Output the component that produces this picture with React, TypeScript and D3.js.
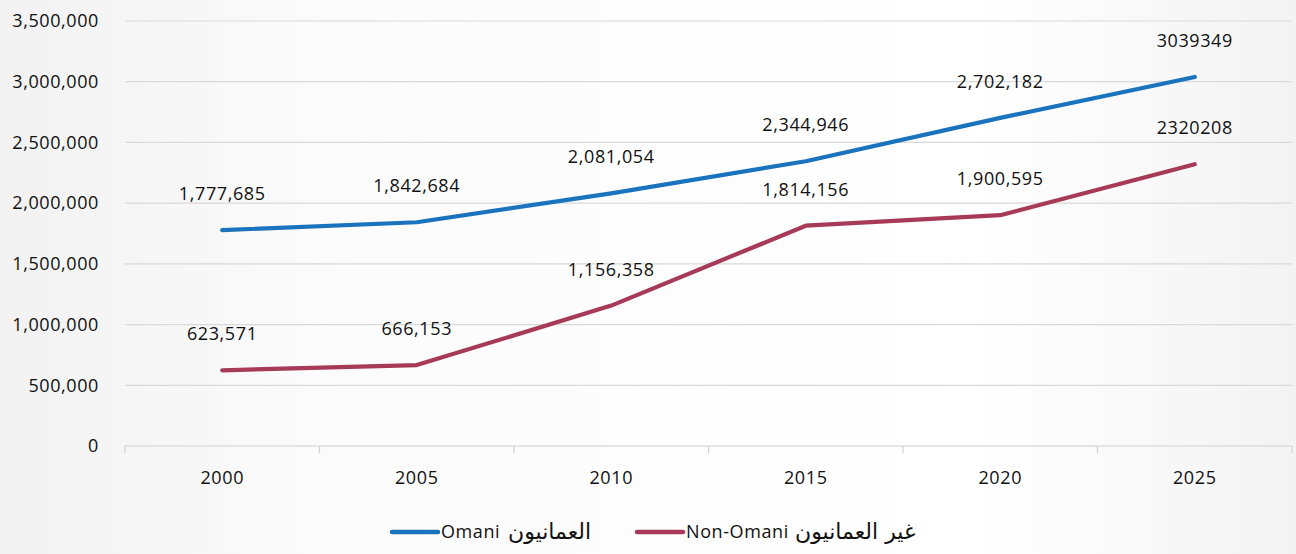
import React, { useEffect, useRef } from 'react';
import * as d3 from 'd3';

// chart data
const years = ['2000', '2005', '2010', '2015', '2020', '2025'];
const omani = [1777685, 1842684, 2081054, 2344946, 2702182, 3039349];
const nonOmani = [623571, 666153, 1156358, 1814156, 1900595, 2320208];
const omaniLabels = ['1,777,685', '1,842,684', '2,081,054', '2,344,946', '2,702,182', '3039349'];
const nonOmaniLabels = ['623,571', '666,153', '1,156,358', '1,814,156', '1,900,595', '2320208'];
const yTicks = [0, 500000, 1000000, 1500000, 2000000, 2500000, 3000000, 3500000];
const seriesLatin = ['Omani', 'Non-Omani'];
const seriesArabic = ['العمانيون', 'غير العمانيون'];

const App = () => {
  const ref = useRef<SVGSVGElement>(null);
  const W = 1296;
  const H = 554;
  const margin = { top: 21, right: 4, bottom: 108, left: 125 };
  const font = "'Open Sans', 'DejaVu Sans', sans-serif";
  const fs = 18;
  const ls = 0.6;
  const ink = '#111111';

  useEffect(() => {
    const svg = d3.select(ref.current);
    svg.selectAll('*').remove();

    // background
    const defs = svg.append('defs');
    const grad = defs.append('linearGradient').attr('id', 'bg').attr('x1', '0').attr('x2', '1');
    grad.append('stop').attr('offset', '0%').attr('stop-color', '#f2f2f2');
    grad.append('stop').attr('offset', '25%').attr('stop-color', '#fbfbfb');
    grad.append('stop').attr('offset', '75%').attr('stop-color', '#ffffff');
    grad.append('stop').attr('offset', '100%').attr('stop-color', '#f3f3f3');
    svg.append('rect').attr('width', W).attr('height', H).attr('fill', 'url(#bg)');

    const iw = W - margin.left - margin.right;
    const ih = H - margin.top - margin.bottom;
    const g = svg.append('g').attr('transform', `translate(${margin.left},${margin.top})`);

    const x = d3.scaleBand().domain(years).range([0, iw]);
    const y = d3.scaleLinear().domain([0, 3500000]).range([ih, 0]);

    // grid lines
    g.selectAll('.grid')
      .data(yTicks.slice(1))
      .enter()
      .append('line')
      .attr('x1', 0)
      .attr('x2', iw)
      .attr('y1', d => y(d))
      .attr('y2', d => y(d))
      .attr('stroke', '#d9d9d9')
      .attr('stroke-width', 1.2);

    // y axis labels
    g.selectAll('.ylab')
      .data(yTicks)
      .enter()
      .append('text')
      .attr('x', -26)
      .attr('y', d => y(d))
      .attr('dy', '0.35em')
      .attr('text-anchor', 'end')
      .attr('font-family', font)
      .attr('font-size', fs)
      .attr('letter-spacing', ls)
      .attr('fill', ink)
      .text(d => d3.format(',')(d));

    // x axis
    g.append('line')
      .attr('x1', 0).attr('x2', iw)
      .attr('y1', ih).attr('y2', ih)
      .attr('stroke', '#d0d0d0').attr('stroke-width', 1.2);
    const tickPos = years.map(d => x(d) as number).concat([iw]);
    g.selectAll('.xtick')
      .data(tickPos)
      .enter()
      .append('line')
      .attr('x1', d => d).attr('x2', d => d)
      .attr('y1', ih).attr('y2', ih + 7)
      .attr('stroke', '#d0d0d0').attr('stroke-width', 1.2);
    g.selectAll('.xlab')
      .data(years)
      .enter()
      .append('text')
      .attr('x', d => (x(d) as number) + x.bandwidth() / 2)
      .attr('y', ih + 38)
      .attr('text-anchor', 'middle')
      .attr('font-family', font)
      .attr('font-size', fs)
      .attr('letter-spacing', ls)
      .attr('fill', ink)
      .text(d => d);

    const cx = (i: number) => (x(years[i]) as number) + x.bandwidth() / 2;
    const line = d3.line<number>().x((_, i) => cx(i)).y(d => y(d));

    const series = [
      { values: omani, labels: omaniLabels, color: '#1a73bd' },
      { values: nonOmani, labels: nonOmaniLabels, color: '#a63a58' },
    ];

    series.forEach(s => {
      g.append('path')
        .datum(s.values)
        .attr('fill', 'none')
        .attr('stroke', s.color)
        .attr('stroke-width', 4.2)
        .attr('stroke-linecap', 'round')
        .attr('stroke-linejoin', 'round')
        .attr('d', line);
      g.selectAll(null)
        .data(s.values)
        .enter()
        .append('text')
        .attr('x', (_, i) => cx(i))
        .attr('y', d => y(d) - 30)
        .attr('text-anchor', 'middle')
        .attr('font-family', font)
        .attr('font-size', fs)
        .attr('letter-spacing', ls)
        .attr('fill', ink)
        .text((_, i) => s.labels[i]);
    });

    // legend
    const legendX = [392, 637];
    const arabicX = [508, 795];
    series.forEach((s, i) => {
      const lg = svg.append('g').attr('transform', `translate(${legendX[i]},${H - 22})`);
      lg.append('line')
        .attr('x1', 0).attr('x2', 46)
        .attr('y1', 0).attr('y2', 0)
        .attr('stroke', s.color).attr('stroke-width', 4.5).attr('stroke-linecap', 'round');
      lg.append('text')
        .attr('x', 49)
        .attr('y', 0)
        .attr('dy', '0.33em')
        .attr('font-family', font)
        .attr('font-size', fs)
        .attr('letter-spacing', ls)
        .attr('fill', ink)
        .text(seriesLatin[i]);
      lg.append('text')
        .attr('x', arabicX[i] - legendX[i])
        .attr('y', 0)
        .attr('dy', '0.3em')
        .attr('font-family', "'DejaVu Sans', sans-serif")
        .attr('font-size', 22)
        .attr('fill', ink)
        .text(seriesArabic[i]);
    });
  }, []);

  return (
    <div>
      <svg ref={ref} width={W} height={H} style={{ position: 'absolute', left: 0, top: 0 }} />
    </div>
  );
};

export default App;
